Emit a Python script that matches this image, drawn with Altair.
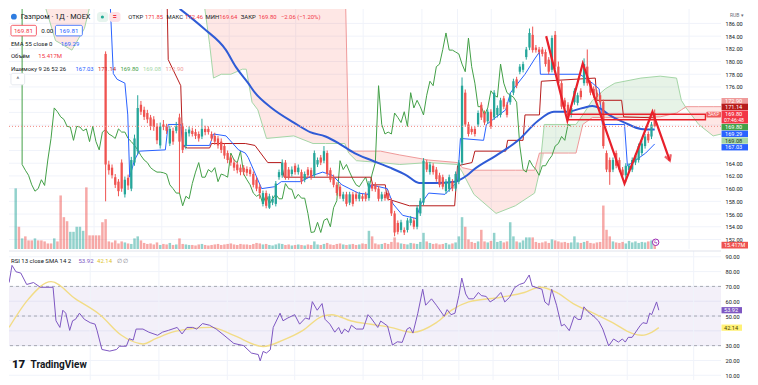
import altair as alt
import pandas as pd

FONT = "Roboto"
INK = "#131722"
W, H1, H2 = 712, 240, 129
SX = W / 728.0
SY1 = H1 / 250.0
SY2 = H2 / 135.0

X_DOMAIN = [-0.53, 218.09]
P_DOMAIN = [150.5, 188.27]
R_DOMAIN = [6.8, 93.9]
V_DOMAIN = [0, 475]

FIRST_CANDLE_BAR = 28
CHIKOU_SHIFT = 26

# ---------------- daily candles (RUB) ----------------
OPEN = [
    181.2, 163.8, 163.3, 161.8, 161.1, 164.1, 159.1, 161.7, 160.0, 164.1,
    165.9, 173.2, 172.4, 171.9, 171.2, 170.9, 169.8, 166.8, 170.1, 169.7,
    167.1, 169.1, 169.1, 171.2, 169.8, 166.7, 168.7, 169.1, 168.9, 168.6,
    168.2, 169.4, 169.4, 168.6, 168.3, 167.9, 167.4, 166.7, 165.6, 164.9,
    164.1, 163.8, 163.3, 163.3, 163.1, 163.0, 162.3, 161.4, 160.3, 157.6,
    159.3, 157.0, 157.8, 157.6, 161.8, 162.1, 164.1, 163.0, 162.3, 163.6,
    162.6, 162.6, 161.4, 163.0, 162.9, 162.1, 163.8, 164.9, 164.4, 165.6,
    162.9, 161.8, 160.6, 160.3, 158.4, 159.1, 157.8, 159.1, 159.1, 158.4,
    158.8, 159.1, 158.5, 160.6, 160.6, 160.0, 158.4, 159.1, 159.3, 158.1,
    156.1, 154.6, 153.5, 153.5, 153.5, 154.6, 155.0, 154.0, 156.1, 157.8,
    164.1, 162.6, 163.6, 163.0, 162.1, 161.8, 159.6, 159.9, 161.1, 160.0,
    161.1, 164.1, 175.1, 170.1, 169.4, 169.4, 170.1, 173.2, 171.9, 170.6,
    172.1, 171.2, 171.6, 171.6, 174.2, 173.2, 173.6, 175.1, 177.2, 178.4,
    178.7, 180.7, 182.2, 184.2, 182.2, 181.9, 181.9, 181.5, 180.3, 178.7,
    184.2, 179.2, 176.6, 173.9, 173.2, 171.6, 173.6, 173.5, 175.4, 176.6,
    179.2, 176.6, 175.7, 175.1, 174.7, 173.6, 165.6, 164.5, 163.0, 165.6,
    164.5, 163.0, 162.1, 162.9, 163.0, 164.1, 164.5, 165.6, 166.7, 168.6,
    168.2, 171.85]
HIGH = [
    181.6, 164.4, 163.8, 162.3, 161.5, 164.6, 161.9, 162.2, 165.0, 168.5,
    174.7, 173.8, 172.9, 172.4, 171.6, 171.4, 170.3, 170.4, 170.8, 170.2,
    169.9, 169.6, 170.5, 171.8, 170.3, 169.4, 169.8, 169.6, 169.4, 169.0,
    171.0, 169.9, 169.8, 169.0, 168.8, 168.3, 167.9, 167.1, 166.0, 165.3,
    164.6, 164.2, 163.8, 163.7, 163.5, 163.4, 162.7, 161.8, 160.7, 159.7,
    159.7, 159.2, 158.9, 161.2, 163.0, 164.6, 164.5, 163.4, 163.5, 164.0,
    163.8, 163.0, 162.7, 163.4, 163.3, 166.0, 164.9, 165.3, 166.7, 166.0,
    163.3, 162.2, 161.0, 160.7, 159.5, 159.5, 159.5, 159.5, 159.5, 159.5,
    159.2, 159.5, 161.2, 161.0, 161.0, 160.4, 159.5, 159.5, 159.7, 158.5,
    156.5, 155.0, 155.1, 153.9, 155.4, 155.7, 155.4, 157.4, 158.5, 164.8,
    164.5, 164.2, 164.0, 163.4, 162.5, 162.2, 161.5, 162.2, 161.5, 162.7,
    164.5, 177.5, 175.6, 170.5, 169.8, 169.8, 172.3, 173.6, 172.3, 172.5,
    172.5, 175.5, 173.1, 174.3, 174.6, 173.6, 175.1, 177.3, 177.6, 179.6,
    180.0, 182.3, 185.2, 185.5, 182.6, 182.3, 182.3, 181.9, 180.7, 184.1,
    184.8, 180.0, 177.0, 174.3, 173.6, 173.1, 175.8, 175.1, 175.8, 180.5,
    181.9, 177.0, 176.1, 175.5, 175.1, 174.0, 166.0, 164.9, 164.9, 166.0,
    164.9, 163.4, 164.0, 164.0, 164.9, 165.6, 167.1, 167.5, 168.6, 169.0,
    170.5, 172.46]
LOW = [
    158.0, 162.2, 161.6, 160.1, 158.8, 159.5, 158.6, 159.8, 159.6, 163.6,
    165.4, 171.6, 170.8, 170.3, 169.2, 169.1, 167.0, 166.3, 169.2, 168.6,
    166.7, 166.9, 168.7, 159.3, 165.6, 166.2, 168.2, 168.2, 167.8, 167.4,
    167.8, 168.4, 168.5, 167.5, 166.9, 166.3, 165.6, 164.7, 164.0, 163.6,
    162.8, 162.4, 162.1, 162.1, 162.0, 161.9, 160.2, 159.6, 158.4, 157.2,
    156.9, 156.8, 157.4, 157.2, 161.4, 161.7, 161.4, 161.4, 161.9, 162.2,
    162.2, 160.7, 161.0, 161.7, 161.4, 161.7, 163.4, 163.7, 164.0, 161.9,
    161.0, 160.2, 158.9, 158.4, 158.0, 157.2, 157.4, 157.2, 158.0, 158.0,
    158.0, 158.0, 158.1, 159.6, 159.5, 158.0, 158.0, 158.1, 158.1, 155.7,
    152.5, 152.8, 153.1, 152.7, 153.1, 154.2, 153.6, 153.6, 155.7, 157.4,
    162.6, 162.2, 162.2, 161.1, 160.2, 159.9, 159.2, 159.5, 159.6, 159.6,
    160.7, 163.7, 169.7, 168.2, 168.5, 168.2, 169.7, 170.8, 170.0, 170.2,
    169.4, 170.8, 171.2, 171.2, 172.5, 171.2, 173.2, 174.7, 175.8, 178.0,
    178.3, 180.3, 181.8, 181.4, 181.4, 181.1, 180.8, 179.2, 178.0, 178.3,
    178.8, 176.2, 172.5, 172.5, 171.3, 171.2, 173.2, 173.1, 174.0, 176.2,
    176.2, 174.7, 174.3, 174.0, 173.2, 166.3, 162.6, 160.6, 162.6, 163.2,
    162.6, 161.7, 161.0, 162.5, 162.6, 163.7, 164.1, 165.2, 166.3, 167.2,
    167.8, 169.64]
CLOSE = [
    163.8, 162.9, 162.1, 160.6, 159.6, 160.0, 161.4, 160.5, 164.5, 167.9,
    172.7, 172.1, 171.3, 170.9, 169.8, 169.7, 167.6, 169.8, 169.7, 169.1,
    169.4, 167.4, 169.8, 167.4, 166.1, 168.9, 169.3, 168.6, 168.3, 167.9,
    169.4, 168.9, 168.9, 167.9, 167.4, 166.8, 166.1, 165.2, 164.5, 164.1,
    163.3, 162.9, 162.6, 162.6, 162.5, 162.3, 160.6, 160.0, 159.3, 159.3,
    157.3, 158.8, 158.4, 160.8, 162.6, 164.1, 161.8, 161.8, 163.0, 162.6,
    163.3, 161.1, 162.3, 162.1, 161.8, 165.6, 164.5, 164.1, 165.9, 162.3,
    161.4, 160.6, 159.3, 158.8, 159.1, 157.6, 159.1, 157.6, 158.4, 159.1,
    158.4, 158.4, 160.8, 160.0, 159.9, 158.4, 159.1, 158.5, 158.5, 156.1,
    153.1, 153.2, 154.7, 153.1, 155.0, 155.3, 154.0, 157.0, 158.1, 164.4,
    163.0, 163.8, 162.6, 161.5, 160.6, 160.3, 161.1, 161.8, 160.0, 162.3,
    164.1, 176.2, 170.1, 168.6, 168.9, 168.6, 171.9, 171.2, 170.4, 172.1,
    169.8, 175.1, 172.7, 173.9, 172.9, 171.6, 174.7, 176.9, 176.2, 179.2,
    179.6, 181.9, 184.5, 181.8, 181.8, 181.5, 181.2, 179.6, 178.4, 183.7,
    179.2, 176.6, 172.9, 172.9, 171.6, 172.7, 175.4, 174.7, 174.4, 179.6,
    176.6, 175.1, 174.7, 174.4, 173.6, 166.7, 163.0, 162.6, 164.5, 163.6,
    163.0, 162.1, 163.6, 163.6, 164.5, 165.2, 166.7, 167.1, 168.2, 167.6,
    170.1, 169.80]
VOLUME = [  # millions of shares, one per candle
    59, 15, 13, 17, 11, 15, 13, 11, 10, 21,
    25, 17, 12, 10, 11, 9, 13, 8, 10, 9,
    12, 8, 9, 21, 10, 9, 8, 8, 7, 9,
    10, 8, 7, 8, 9, 10, 8, 9, 10, 11,
    9, 8, 10, 9, 9, 8, 10, 12, 11, 9,
    10, 8, 7, 9, 11, 10, 8, 9, 7, 8,
    9, 8, 7, 9, 8, 15, 9, 8, 10, 12,
    9, 8, 10, 11, 9, 8, 9, 10, 8, 9,
    11, 10, 36, 25, 11, 9, 10, 12, 10, 14,
    23, 13, 11, 10, 9, 12, 11, 10, 14, 32,
    15, 12, 10, 11, 9, 10, 12, 9, 11, 13,
    25, 63, 44, 19, 14, 12, 15, 38, 15, 13,
    16, 32, 14, 16, 13, 15, 53, 25, 15, 13,
    17, 23, 23, 23, 14, 12, 13, 15, 12, 19,
    17, 15, 13, 14, 12, 13, 25, 13, 12, 14,
    16, 12, 11, 13, 14, 86, 38, 25, 15, 13,
    12, 14, 11, 16, 13, 15, 12, 14, 13, 15,
    17, 15.417]
# earlier sessions whose candles sit above the visible price range
PRE_VOLUME = [120, 44, 21, 25, 17, 17, 21, 17, 17, 15, 11, 11, 21, 15,
              106, 63, 55, 34, 34, 44, 44, 36, 122, 27, 27, 27, 27, 53]
PRE_VOLUME_UP = [1, 0, 1, 0, 0, 0, 1, 0, 0, 0, 0, 0, 1, 0,
                 0, 0, 0, 1, 1, 1, 1, 1, 0, 0, 0, 0, 0, 0]

# ---------------- indicators ----------------
EMA_BAR = [51.1, 58.6, 65.5, 68.5, 72.4, 74.5, 79.7, 86.6, 91.7, 96.5, 100.7, 105.5,
           110.6, 116.6, 121.7, 125.6, 130.7, 136.7, 140.6, 142.7, 149.6, 156.5,
           162.5, 167.6, 171.5, 176.6, 179.6, 181.7, 184.8, 189.6, 194.7, 199.0]
EMA_VAL = [188.3, 185.2, 181.8, 179.2, 176.6, 175.1, 172.7, 170.4, 168.9, 168.2, 167.1, 165.6,
           164.5, 163.3, 162.1, 160.9, 160.9, 161.1, 162.1, 163.0, 165.2, 167.6,
           170.6, 172.1, 172.1, 172.7, 173.0, 172.7, 171.6, 170.4, 169.4, 169.29]

TENKAN_BAR = [29.5, 30.4, 31.6, 34.0, 34.9, 35.5, 37.0, 38.5, 46.6, 47.5, 51.4, 52.0, 60.4, 61.6,
              65.5, 69.4, 71.5, 72.4, 76.6, 80.6, 82.7, 88.7, 92.6, 95.6, 98.6, 101.6, 106.7,
              109.7, 110.6, 115.7, 117.5, 120.5, 124.7, 126.2, 128.6, 133.7, 137.6, 138.5,
              145.7, 146.6, 148.7, 152.6, 154.1, 158.6, 161.6, 163.1, 163.4, 175.7, 179.6,
              181.7, 182.7, 189.6, 190.5, 193.2, 196.2, 199.0]
TENKAN_VAL = [188.3, 178.1, 177.2, 176.6, 171.6, 161.8, 164.5, 165.9, 166.1, 170.1, 170.1, 166.8,
              166.8, 168.6, 168.3, 166.1, 165.6, 164.9, 160.0, 160.3, 161.1, 161.1, 162.1, 162.6,
              162.1, 160.6, 159.3, 159.1, 160.6, 160.0, 157.6, 155.8, 155.3, 157.6, 159.3, 159.1,
              161.1, 167.9, 167.6, 170.1, 170.9, 172.4, 175.1, 178.0, 180.4, 181.5, 178.0, 178.0,
              176.6, 175.7, 170.1, 170.1, 163.6, 164.5, 165.6, 167.03]

KIJUN_BAR = [47.2, 47.5, 51.4, 52.0, 53.5, 60.4, 61.0, 71.5, 74.5, 78.5, 82.7, 83.6, 110.6, 111.2,
             115.1, 115.7, 122.6, 136.7, 137.6, 142.1, 143.0, 152.6, 153.2, 158.0, 158.6, 163.1,
             163.7, 180.5, 181.0, 188.7, 189.3, 199.0]
KIJUN_VAL = [188.3, 180.3, 176.2, 166.7, 166.4, 166.4, 167.1, 167.1, 166.8, 164.1, 164.1, 161.8,
             161.8, 160.6, 160.6, 158.4, 157.3, 157.3, 163.6, 164.1, 165.9, 165.9, 167.6, 167.6,
             171.6, 171.6, 176.9, 177.4, 173.9, 173.9, 171.3, 171.14]

SPAN_BAR = [-0.5, 8.5, 9.4, 12.4, 17.5, 21.4, 22.9, 24.1, 58.0, 58.9, 60.4, 61.6, 64.0, 67.0,
            70.6, 71.8, 73.6, 75.4, 78.1, 86.6, 92.6, 96.5, 102.5, 103.7, 106.1, 113.6, 119.6,
            128.6, 137.6, 139.1, 142.7, 149.6, 155.6, 161.6, 163.1, 164.6, 172.1, 174.5, 176.6,
            179.6, 183.6, 186.6, 194.7, 200.7, 205.8, 207.3, 208.8, 212.7, 217.2, 224.1]
SPAN_A = [192, 192, 188.3, 183.3, 181.8, 185.2, 188.3, 192, 192, 188.3, 182.7, 177.4, 178.0,
          178.0, 178.8, 178.8, 173.6, 172.4, 167.9, 168.3, 167.1, 167.1, 167.1, 165.6, 164.4,
          164.1, 163.8, 164.1, 163.8, 162.6, 159.1, 156.1, 157.3, 159.3, 162.6, 170.1, 170.1,
          170.1, 171.6, 173.9, 175.7, 176.6, 177.4, 177.7, 177.4, 173.9, 172.7, 170.1, 168.3, 169.1]
SPAN_B = [195] * 23 + [165.9, 165.9, 165.9, 165.3, 164.5, 164.1, 163.3, 162.9, 162.9, 162.9,
                       162.9, 165.6, 165.6, 165.6, 165.6, 170.1, 171.2, 171.2, 171.2, 171.2,
                       171.3, 171.9, 172.4, 172.9, 172.9, 172.9, 172.9]
CHIKOU_LEAD_IN = [189.0]   # lagging line enters from above the top edge

RSI_BAR = [-0.5, 0.4, 1.6, 3.1, 4.9, 7.0, 9.1, 13.0, 13.9, 15.1, 16.0, 16.9, 18.1, 19.0, 19.9, 21.1,
           22.6, 24.4, 25.9, 26.5, 28.0, 30.4, 32.5, 33.4, 35.5, 36.4, 37.6, 38.5, 40.6, 42.4,
           45.1, 46.6, 48.4, 51.1, 52.6, 54.1, 55.9, 57.1, 58.9, 61.0, 63.1, 65.5, 68.5, 71.5,
           73.9, 76.0, 76.6, 77.5, 78.5, 79.7, 80.6, 82.7, 83.6, 85.1, 87.2, 88.7, 90.5, 91.7,
           92.6, 94.1, 95.6, 96.5, 98.0, 99.5, 100.7, 101.6, 102.5, 103.7, 104.6, 106.1, 108.2,
           109.7, 110.6, 112.7, 113.6, 115.7, 117.2, 118.7, 120.2, 121.7, 122.6, 123.5, 125.0,
           126.5, 127.4, 129.2, 130.7, 133.1, 134.0, 135.2, 136.4, 137.6, 138.5, 139.7, 140.6,
           142.1, 143.6, 144.5, 146.0, 147.2, 148.7, 150.5, 151.7, 153.2, 154.7, 156.2, 157.7,
           159.2, 160.1, 161.6, 163.1, 164.0, 165.2, 166.1, 167.6, 169.1, 170.0, 171.5, 173.0,
           174.2, 175.1, 176.0, 177.2, 179.0, 180.5, 181.8, 183.6, 185.1, 186.6, 187.8, 188.7,
           189.6, 190.8, 191.7, 193.2, 194.1, 195.3, 196.2, 196.8, 198.3, 199.0]
RSI_VAL = [72.6, 84.2, 79.9, 79.0, 71.3, 72.6, 69.4, 69.4, 46.8, 42.3, 53.9, 51.9, 40.3, 46.8,
           47.8, 51.9, 47.8, 45.5, 44.5, 40.3, 27.4, 26.3, 27.4, 29.6, 29.6, 34.7, 33.7, 41.2,
           41.2, 39.1, 37.0, 39.1, 40.3, 42.3, 37.9, 42.3, 42.3, 41.2, 44.9, 43.8, 41.2, 37.0,
           31.5, 30.0, 25.0, 24.0, 19.7, 26.1, 25.0, 27.2, 42.3, 51.9, 46.8, 48.7, 50.9, 44.5,
           48.7, 47.8, 59.7, 53.9, 58.4, 47.8, 44.5, 39.1, 42.3, 37.9, 41.2, 39.1, 43.8, 41.2,
           41.2, 50.9, 48.7, 42.3, 46.6, 43.3, 30.4, 32.6, 32.2, 41.2, 42.3, 38.5, 51.9, 68.1,
           57.3, 61.6, 57.3, 49.8, 54.3, 50.9, 51.9, 63.8, 75.6, 64.9, 61.6, 61.6, 65.9, 63.8,
           63.2, 59.5, 61.6, 65.9, 59.5, 62.7, 69.1, 71.3, 72.4, 77.7, 70.2, 69.1, 68.1, 59.5,
           57.3, 68.1, 57.3, 43.3, 44.4, 40.1, 49.8, 47.7, 47.7, 56.2, 53.0, 49.8, 46.6, 41.2,
           29.8, 34.5, 32.4, 34.5, 32.4, 35.6, 35.6, 38.5, 43.3, 45.5, 44.9, 51.9, 50.9, 59.5,
           53.92]
RSI_MA_BAR = [-0.5, 5.5, 12.4, 19.9, 27.4, 34.0, 39.4, 40.6, 44.5, 49.6, 55.6, 61.6, 68.5, 77.5,
              83.6, 89.6, 95.6, 98.6, 104.6, 110.6, 116.6, 123.5, 130.7, 135.5, 140.6, 150.5,
              157.7, 162.5, 167.6, 172.7, 178.7, 184.8, 190.8, 193.8, 196.8, 199.0]
RSI_MA_VAL = [42.3, 61.6, 73.2, 61.6, 50.9, 37.0, 31.5, 31.1, 34.7, 39.1, 41.5, 42.3, 36.9, 29.4,
              33.7, 40.1, 49.8, 50.9, 46.6, 44.4, 42.3, 38.9, 45.5, 54.1, 59.5, 62.7, 65.9, 69.4,
              65.9, 58.4, 52.1, 45.5, 38.3, 37.0, 39.0, 42.14]

# ---------------- drawings ----------------
ZIGZAG_BAR = [165.2, 171.8, 176.6, 189.6, 198.3, 203.7]
ZIGZAG_PRICE = [184.0, 170.7, 179.7, 160.8, 172.1, 164.4]
ZONE_BARS = [172.1, 214.8]
ZONE_PRICES = [171.7, 170.85]
LAST_PRICE = 169.80
GRID_BARS = [24.4, 45.5, 66.5, 87.2, 108.2, 126.5, 137.6, 148.1, 168.2, 189.3, 209.7]
# scale labels that are not covered by the value tags
PRICE_TICKS = [152, 154, 156, 158, 160, 162, 164, 176, 178, 180, 182, 184, 186]
RSI_TICKS = [10, 20, 30, 50, 60, 70, 80, 90]

TAG_TEXT = ["172.90", "171.14", "169.80", "169.29", "169.08", "167.03"]
TAG_AT = [173.76, 172.86, 169.68, 168.63, 167.57, 166.51]
TAG_BG = ["#ef9a9a", "#b71c1c", "#43a047", "#2962ff", "#a5d6a7", "#2962ff"]
TAG_FG = ["#ffffff", "#ffffff", "#ffffff", "#ffffff", "#1e3a1f", "#ffffff"]
RSI_TAG_TEXT = ["53.92", "42.14"]
RSI_TAG_AT = [53.92, 42.14]
RSI_TAG_BG = ["#7e57c2", "#fff176"]
RSI_TAG_FG = ["#ffffff", "#4a3f00"]

n = len(OPEN)
assert len(HIGH) == n and len(LOW) == n and len(CLOSE) == n and len(VOLUME) == n
assert len(PRE_VOLUME) == FIRST_CANDLE_BAR == len(PRE_VOLUME_UP)
assert len(EMA_BAR) == len(EMA_VAL) and len(TENKAN_BAR) == len(TENKAN_VAL)
assert len(KIJUN_BAR) == len(KIJUN_VAL)
assert len(SPAN_BAR) == len(SPAN_A) == len(SPAN_B)
assert len(RSI_BAR) == len(RSI_VAL) and len(RSI_MA_BAR) == len(RSI_MA_VAL)

UP, DOWN = "#26a69a", "#ef5350"
candles = pd.DataFrame({"b": [FIRST_CANDLE_BAR + i for i in range(n)],
                        "open": OPEN, "high": HIGH, "low": LOW, "close": CLOSE})
candles["col"] = [UP if c >= o else DOWN for o, c in zip(OPEN, CLOSE)]
volume = pd.DataFrame({
    "b": list(range(FIRST_CANDLE_BAR)) + list(candles["b"]),
    "vol": PRE_VOLUME + VOLUME,
    "vcol": [UP if u else DOWN for u in PRE_VOLUME_UP] + list(candles["col"]),
})
chikou = pd.DataFrame({
    "b": [FIRST_CANDLE_BAR - CHIKOU_SHIFT] + [FIRST_CANDLE_BAR + i - CHIKOU_SHIFT for i in range(n)],
    "v": CHIKOU_LEAD_IN + CLOSE,
})
chikou["idx"] = range(len(chikou))


def line_df(bars, vals):
    return pd.DataFrame({"b": bars, "v": vals, "idx": range(len(bars))})


spans = pd.DataFrame({"b": SPAN_BAR, "A": SPAN_A, "B": SPAN_B})

xs = alt.Scale(domain=X_DOMAIN, nice=False, zero=False)
ps = alt.Scale(domain=P_DOMAIN, nice=False, zero=False)
rs = alt.Scale(domain=R_DOMAIN, nice=False, zero=False)
vs = alt.Scale(domain=V_DOMAIN, nice=False)


def bx(f="b"):
    return alt.X(f + ":Q", scale=xs, axis=None)


def py(f, axis=None):
    return alt.Y(f + ":Q", scale=ps, axis=axis)


def ry(f, axis=None):
    return alt.Y(f + ":Q", scale=rs, axis=axis)


ONE = pd.DataFrame({"k": [0]})


def txt(s, x, y, color=INK, size=6.2, weight="normal", align="left", sy=SY1):
    return alt.Chart(ONE).mark_text(text=s, align=align, baseline="middle", font=FONT,
                                    fontSize=size, fontWeight=weight, color=color).encode(
        x=alt.value(x * SX), y=alt.value(y * sy))


def box(x0, y0, x1, y1, fill="#ffffff", stroke=None, sy=SY1, r=1.5, sw=0.8):
    kw = dict(fill=fill, cornerRadius=r)
    if stroke:
        kw.update(stroke=stroke, strokeWidth=sw)
    return alt.Chart(ONE).mark_rect(**kw).encode(
        x=alt.value(x0 * SX), x2=alt.value(x1 * SX), y=alt.value(y0 * sy), y2=alt.value(y1 * sy))


def pline(df, color, width=1.0, interp="linear"):
    return alt.Chart(df).mark_line(color=color, strokeWidth=width, clip=True, interpolate=interp).encode(
        x=bx(), y=py("v"), order=alt.Order("idx:Q"))


price_axis = alt.Axis(orient="right", values=PRICE_TICKS, format=".2f", labelFont=FONT,
                      labelFontSize=5.6, labelColor=INK, ticks=False, domain=False, grid=False,
                      labelPadding=4, title=None, labelOverlap=False)
rsi_axis = alt.Axis(orient="right", values=RSI_TICKS, format=".2f", labelFont=FONT,
                    labelFontSize=5.6, labelColor=INK, ticks=False, domain=False, grid=False,
                    labelPadding=4, title=None, labelOverlap=False)

# ---------------- price pane ----------------
L = []
L.append(alt.Chart(pd.DataFrame({"p": list(range(152, 188, 2))})).mark_rule(
    color="#f0f3fa").encode(y=py("p")))
L.append(alt.Chart(pd.DataFrame({"p": [170.0]})).mark_point(opacity=0).encode(y=py("p", price_axis)))
L.append(alt.Chart(pd.DataFrame({"b": GRID_BARS})).mark_rule(color="#f0f3fa").encode(x=bx()))
L.append(alt.Chart(spans).transform_calculate(lo="min(datum.A, datum.B)")
         .mark_area(color="#f44336", opacity=0.13, clip=True)
         .encode(x=bx(), y=py("B"), y2="lo:Q"))
L.append(alt.Chart(spans).transform_calculate(lo="min(datum.A, datum.B)")
         .mark_area(color="#43a047", opacity=0.13, clip=True)
         .encode(x=bx(), y=py("A"), y2="lo:Q"))
L.append(alt.Chart(spans).mark_line(color="#a5d6a7", strokeWidth=1, clip=True).encode(x=bx(), y=py("A")))
L.append(alt.Chart(spans).mark_line(color="#ef9a9a", strokeWidth=1, clip=True).encode(x=bx(), y=py("B")))
L.append(alt.Chart(volume).mark_bar(width=2.5, opacity=0.5, clip=True).encode(
    x=bx(), y=alt.Y("vol:Q", scale=vs, axis=None), y2=alt.value(H1),
    color=alt.Color("vcol:N", scale=None)))
L.append(pline(chikou, "#43a047", 1.0))
L.append(pline(line_df(KIJUN_BAR, KIJUN_VAL), "#b71c1c", 1.0))
L.append(pline(line_df(TENKAN_BAR, TENKAN_VAL), "#2962ff", 1.0))
L.append(pline(line_df(EMA_BAR, EMA_VAL), "#2f5bd6", 2.0, "monotone"))
L.append(alt.Chart(candles).mark_rule(strokeWidth=1, clip=True).encode(
    x=bx(), y=py("low"), y2="high:Q", color=alt.Color("col:N", scale=None)))
L.append(alt.Chart(candles).mark_bar(width=2.3, clip=True).encode(
    x=bx(), y=py("open"), y2="close:Q", color=alt.Color("col:N", scale=None)))
L.append(alt.Chart(pd.DataFrame({"p": [LAST_PRICE]})).mark_rule(
    color="#f28b82", strokeDash=[1, 2], strokeWidth=1).encode(y=py("p")))
L.append(alt.Chart(pd.DataFrame({"b0": [ZONE_BARS[0]], "b1": [ZONE_BARS[1]],
                                 "p0": [ZONE_PRICES[0]], "p1": [ZONE_PRICES[1]]}))
         .mark_rect(fill="#f23645", fillOpacity=0.08, stroke="#e8202a", strokeWidth=1.4, clip=True)
         .encode(x=bx("b0"), x2="b1:Q", y=py("p0"), y2="p1:Q"))
zz = line_df(ZIGZAG_BAR, ZIGZAG_PRICE)
L.append(alt.Chart(zz).mark_line(color="#e8202a", strokeWidth=2.2, clip=True).encode(
    x=bx(), y=py("v"), order=alt.Order("idx:Q")))
L.append(alt.Chart(zz.tail(1)).mark_point(shape="M -0.55 -1 L 0 0 L 0.55 -1", filled=False,
                                          color="#e8202a", strokeWidth=2.2, size=130, angle=340)
         .encode(x=bx(), y=py("v")))
# "ЗАКР" label of the zone
L.append(box(713, 107, 728, 113, fill="#f05a5a", r=1))
L.append(txt("ЗАКР", 720.5, 110, color="#ffffff", size=4.6, align="center"))
# right-scale tags
tags = pd.DataFrame({"p": TAG_AT, "t": TAG_TEXT, "bg": TAG_BG, "fg": TAG_FG})
L.append(alt.Chart(tags).transform_calculate(top="datum.p + 0.5", bot="datum.p - 0.5")
         .mark_rect().encode(x=alt.value(W + 0.5), x2=alt.value(W + 27), y=py("top"), y2="bot:Q",
                             color=alt.Color("bg:N", scale=None)))
L.append(alt.Chart(tags).mark_text(align="left", baseline="middle", font=FONT, fontSize=5.6).encode(
    x=alt.value(W + 4), y=py("p"), text="t:N", color=alt.Color("fg:N", scale=None)))
closetag = pd.DataFrame({"top": [172.3], "bot": [170.25], "p1": [171.67], "p2": [170.8]})
L.append(alt.Chart(closetag).mark_rect(color="#f23645").encode(
    x=alt.value(W + 0.5), x2=alt.value(W + 27), y=py("top"), y2="bot:Q"))
L.append(alt.Chart(closetag).mark_text(text="169.80", align="left", baseline="middle", font=FONT,
                                       fontSize=5.6, color="#ffffff").encode(x=alt.value(W + 4), y=py("p1")))
L.append(alt.Chart(closetag).mark_text(text="07:46:48", align="left", baseline="middle", font=FONT,
                                       fontSize=5.2, color="#ffffff").encode(x=alt.value(W + 3), y=py("p2")))
L.append(alt.Chart(ONE).mark_rect(color="#ef5350").encode(
    x=alt.value(W + 0.5), x2=alt.value(W + 27), y=alt.value(242.5 * SY1), y2=alt.value(249.5 * SY1)))
L.append(alt.Chart(ONE).mark_text(text="15.417M", align="left", baseline="middle", font=FONT,
                                  fontSize=5.4, color="#ffffff").encode(x=alt.value(W + 3), y=alt.value(246 * SY1)))
L.append(alt.Chart(ONE).mark_text(text="RUB ▾", align="left", baseline="middle", font=FONT,
                                  fontSize=5, color="#6a6d78").encode(x=alt.value(W + 9), y=alt.value(6 * SY1)))
# event marker near the last bar
L.append(alt.Chart(pd.DataFrame({"b": [199.3]})).mark_point(
    shape="circle", size=42, fill="#ffffff", stroke="#9c27b0", strokeWidth=1, opacity=1).encode(
    x=bx(), y=alt.value(243 * SY1)))
L.append(alt.Chart(pd.DataFrame({"b": [199.3]})).mark_text(
    text="ϟ", fontSize=6, color="#9c27b0", align="center", baseline="middle").encode(
    x=bx(), y=alt.value(243 * SY1)))
# legend block
L.append(alt.Chart(ONE).mark_point(shape="circle", filled=True, size=34, color="#2f7de1", opacity=1)
         .encode(x=alt.value(5 * SX), y=alt.value(8 * SY1)))
L.append(txt("Газпром · 1Д · MOEX", 12, 8, size=7.3))
L.append(box(90, 3, 101.5, 13.5, fill="#e6f4ee", r=3))
L.append(alt.Chart(ONE).mark_point(shape="circle", filled=True, size=10, color="#22ab94", opacity=1)
         .encode(x=alt.value(95.5 * SX), y=alt.value(8.3 * SY1)))
L.append(box(102.5, 3, 114, 13.5, fill="#fde2e6", r=3))
L.append(txt("=", 108.2, 8.3, color="#f23645", size=7, align="center", weight="bold"))
for s, x, c in [("ОТКР", 122, INK), ("171.85", 139, "#f23645"), ("МАКС", 161, INK),
                ("172.46", 180, "#f23645"), ("МИН", 201, INK), ("169.64", 215, "#f23645"),
                ("ЗАКР", 237, INK), ("169.80", 255, "#f23645"), ("−2.06 (−1.20%)", 278, "#f23645")]:
    L.append(txt(s, x, 8, color=c, size=5.9))
L.append(box(2, 17, 28, 28, stroke="#f23645"))
L.append(txt("169.81", 5, 22.5, color="#f23645", size=6.2))
L.append(txt("0.00", 33, 22.5, size=6.2))
L.append(box(47.5, 17, 75, 28, stroke="#2962ff"))
L.append(txt("169.81", 51.5, 22.5, color="#2962ff", size=6.2))
L.append(txt("EMA 55 close 0", 2, 36, size=6.0))
L.append(txt("169.29", 53, 36, color="#2962ff", size=6.0))
L.append(txt("Объём", 2, 49, size=6.0))
L.append(txt("15.417M", 30, 49, color="#f23645", size=6.0))
L.append(txt("Ишимоку 9 26 52 26", 2, 62, size=5.9))
for s, x, c in [("167.03", 68, "#2962ff"), ("171.14", 91, "#c62828"), ("169.80", 114, "#43a047"),
                ("169.08", 137, "#a5d6a7"), ("172.90", 160, "#ef9a9a")]:
    L.append(txt(s, x, 62, color=c, size=5.9))
L.append(box(2, 67, 16, 79, stroke="#e0e3eb", r=2))
L.append(txt("^", 9, 74, size=6.5, align="center", color="#4a4d57"))

price_pane = alt.layer(*L).resolve_scale(y="independent").properties(width=W, height=H1)

# ---------------- RSI pane ----------------
rsi = line_df(RSI_BAR, RSI_VAL)
R = []
R.append(alt.Chart(pd.DataFrame({"lv": list(range(10, 100, 10))})).mark_rule(
    color="#f0f3fa").encode(y=ry("lv")))
R.append(alt.Chart(pd.DataFrame({"top": [70], "bot": [30]})).mark_rect(color="#7e57c2", opacity=0.09)
         .encode(x=alt.value(0), x2=alt.value(W), y=ry("top", rsi_axis), y2="bot:Q"))
R.append(alt.Chart(pd.DataFrame({"b": GRID_BARS})).mark_rule(color="#f0f3fa").encode(x=bx()))
R.append(alt.Chart(ONE).mark_rule(color="#e0e3eb", strokeWidth=1).encode(y=alt.value(0)))
R.append(alt.Chart(pd.DataFrame({"lv": [70, 50, 30]})).mark_rule(
    color="#9598a1", strokeDash=[3, 3], strokeWidth=0.8).encode(y=ry("lv")))
R.append(alt.Chart(rsi).transform_calculate(hi="max(datum.v, 70)").mark_area(
    color="#4caf50", opacity=0.3, clip=True).encode(x=bx(), y=ry("hi"), y2=alt.datum(70),
                                                    order=alt.Order("idx:Q")))
R.append(alt.Chart(rsi).transform_calculate(lo="min(datum.v, 30)").mark_area(
    color="#f44336", opacity=0.25, clip=True).encode(x=bx(), y=ry("lo"), y2=alt.datum(30),
                                                     order=alt.Order("idx:Q")))
R.append(alt.Chart(line_df(RSI_MA_BAR, RSI_MA_VAL)).mark_line(
    color="#f2dc86", strokeWidth=1.4, interpolate="monotone", clip=True).encode(
    x=bx(), y=ry("v"), order=alt.Order("idx:Q")))
R.append(alt.Chart(rsi).mark_line(color="#7e57c2", strokeWidth=1, clip=True).encode(
    x=bx(), y=ry("v"), order=alt.Order("idx:Q")))
rtags = pd.DataFrame({"p": RSI_TAG_AT, "t": RSI_TAG_TEXT, "bg": RSI_TAG_BG, "fg": RSI_TAG_FG})
R.append(alt.Chart(rtags).transform_calculate(top="datum.p + 2.1", bot="datum.p - 2.1")
         .mark_rect().encode(x=alt.value(W + 0.5), x2=alt.value(W + 21), y=ry("top"), y2="bot:Q",
                             color=alt.Color("bg:N", scale=None)))
R.append(alt.Chart(rtags).mark_text(align="left", baseline="middle", font=FONT, fontSize=5.6).encode(
    x=alt.value(W + 3), y=ry("p"), text="t:N", color=alt.Color("fg:N", scale=None)))
R.append(txt("RSI 13 close SMA 14 2", 2, 10.5, size=6.0, sy=SY2))
R.append(txt("53.92", 71, 10.5, color="#7e57c2", size=6.0, sy=SY2))
R.append(txt("42.14", 90, 10.5, color="#e0bf2a", size=6.0, sy=SY2))
R.append(txt("∅ ∅", 110, 10.5, color="#787b86", size=6.0, sy=SY2))
R.append(txt("17", 3, 119, size=11.5, weight=900, sy=SY2))
R.append(txt("TradingView", 22, 119.5, size=10, weight="bold", sy=SY2))

rsi_pane = alt.layer(*R).resolve_scale(y="independent").properties(width=W, height=H2)

chart = alt.vconcat(price_pane, rsi_pane, spacing=0).properties(
    padding=0, background="#ffffff").configure_view(stroke=None)

chart.save("out.html", embed_options={"renderer": "svg", "actions": False})
